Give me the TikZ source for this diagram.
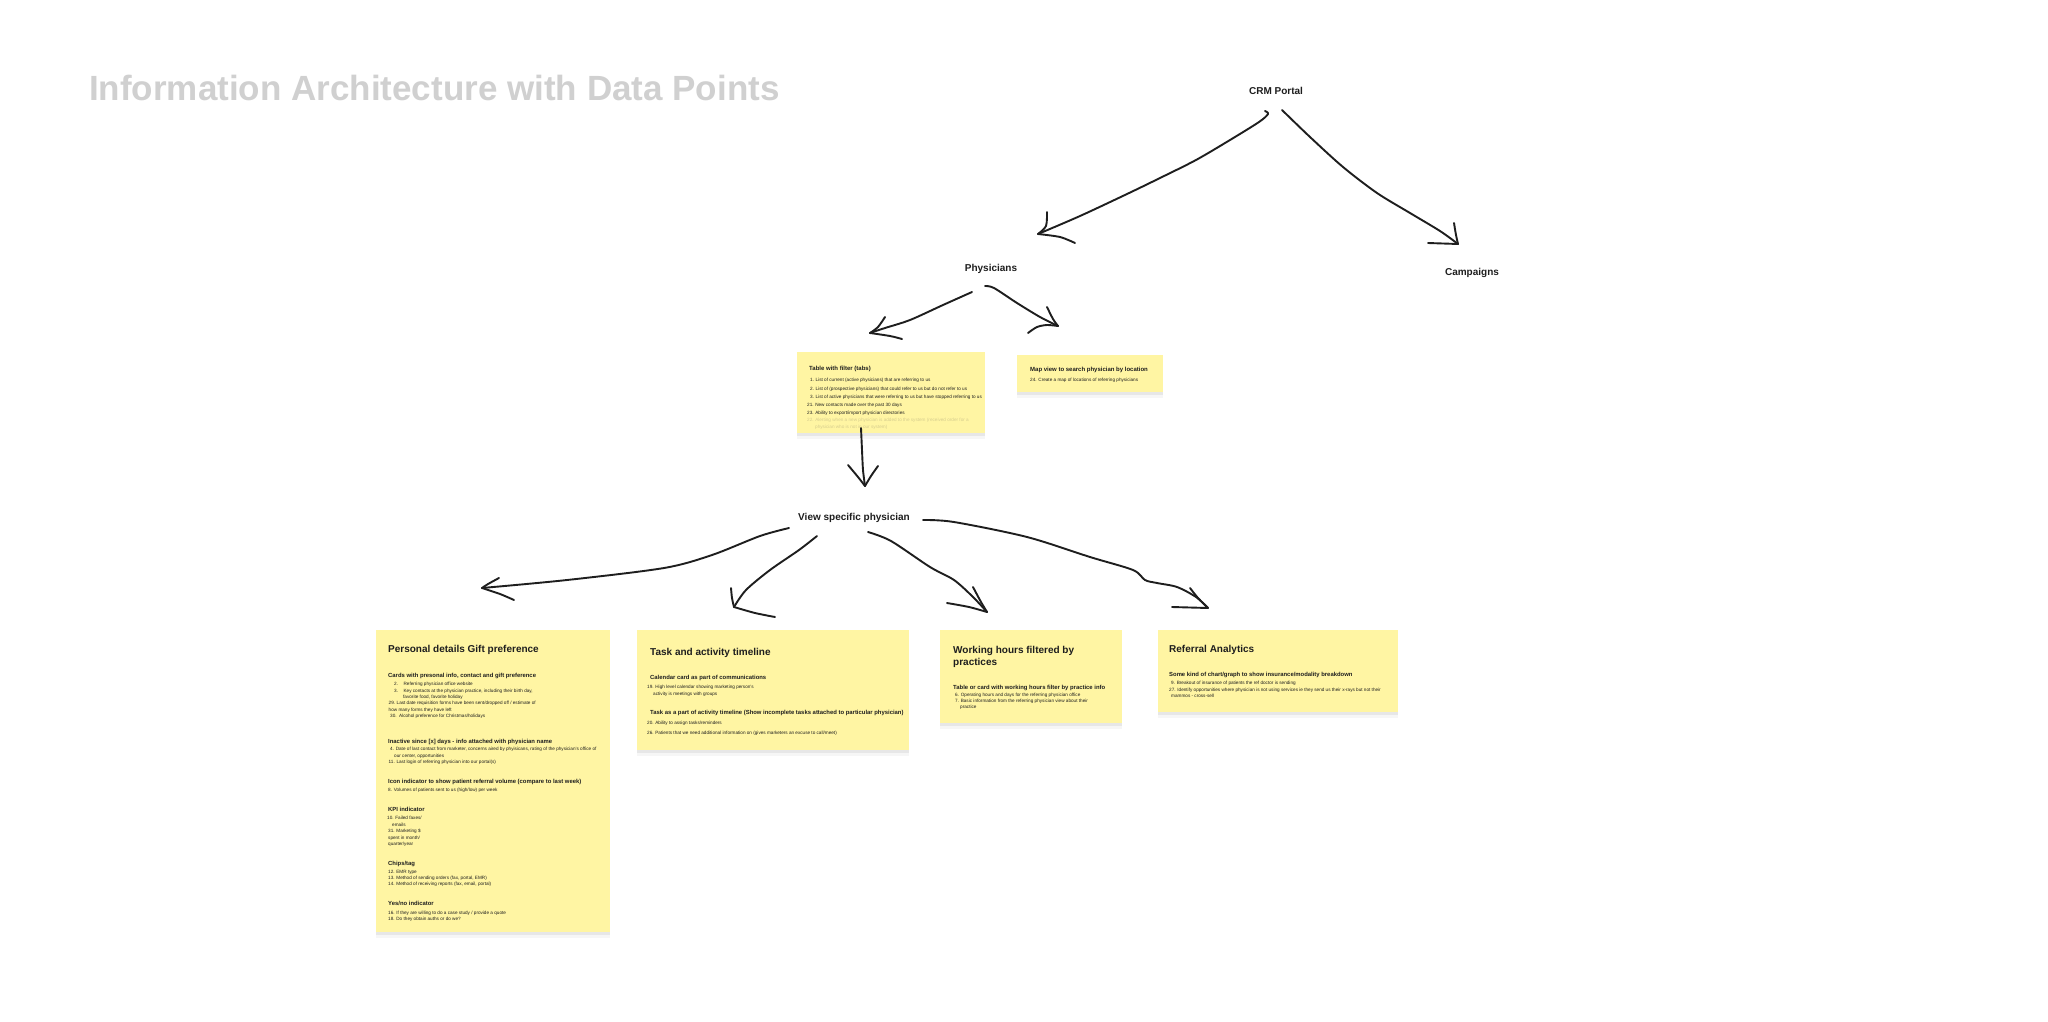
\documentclass[tikz,border=0pt]{standalone}
\usepackage{fontspec}
\setmainfont{Liberation Sans}
\usetikzlibrary{shadows}
\definecolor{notey}{HTML}{FFF5A3}
\definecolor{ink}{HTML}{1E1E1E}
\definecolor{ttlgray}{HTML}{D0D0D0}
\definecolor{faded}{HTML}{D6CD8E}
\tikzset{
  note/.style={fill=notey, draw=none, inner sep=0pt, anchor=north west,
    drop shadow={shadow xshift=0pt, shadow yshift=-6pt, opacity=0.035, fill=black},
    drop shadow={shadow xshift=0pt, shadow yshift=-3pt, opacity=0.06, fill=black}},
  hand/.style={line width=1.9pt, line cap=round, line join=round, draw=ink},
  lbl/.style={font=\fontsize{10}{12}\selectfont\bfseries, text=ink, inner sep=0pt, anchor=base, yshift=-3.6pt},
  bigtitle/.style={font=\fontsize{35}{40}\selectfont\bfseries, text=ttlgray, inner sep=0pt, anchor=base west},
  ntitle/.style={font=\fontsize{10}{12}\selectfont\bfseries, text=ink, inner sep=0pt, anchor=base west, yshift=-3.6pt},
  stitle/.style={font=\fontsize{6}{7}\selectfont\bfseries, text=ink, inner sep=0pt, anchor=base west, yshift=-2.1pt},
  sub/.style={font=\fontsize{5.9}{6.5}\selectfont\bfseries, text=ink, inner sep=0pt, anchor=base west, yshift=-2.0pt},
  itm/.style={font=\fontsize{4.65}{5.5}\selectfont, text=ink, inner sep=0pt, anchor=base west, yshift=-1.55pt},
  fitm/.style={itm, text=faded}
}
\begin{document}
\begin{tikzpicture}[x=1pt,y=-1pt]
\useasboundingbox (0,0) rectangle (2048,1021);
\fill[white] (0,0) rectangle (2048,1021);

% title
\node[bigtitle] (title) at (89,100) {Information Architecture with Data Points};

% hierarchy labels
\node[lbl] (crm) at (1276,91) {CRM Portal};
\node[lbl] (phys) at (991,268) {Physicians};
\node[lbl] (camp) at (1472,272) {Campaigns};
\node[lbl] (view) at (854,517) {View specific physician};

% sticky notes
\node[note, minimum width=188pt, minimum height=81pt] (tbl) at (797,352) {};
\node[note, minimum width=146pt, minimum height=37pt] (map) at (1017,355) {};
\node[note, minimum width=234pt, minimum height=302pt] (pd) at (376,630) {};
\node[note, minimum width=272pt, minimum height=120pt] (task) at (637,630) {};
\node[note, minimum width=182pt, minimum height=93pt] (work) at (940,630) {};
\node[note, minimum width=240pt, minimum height=82pt] (ref) at (1158,630) {};

% table note
\node[stitle] (tb-t) at (809,368) {Table with filter (tabs)};
\node[itm] (tb-1) at (810,380) {1.\hspace{1.6pt}List of current (active physicians) that are referring to us};
\node[itm] (tb-2) at (810,388.5) {2.\hspace{1.6pt}List of (prospective physicians) that could refer to us but do not refer to us};
\node[itm] (tb-3) at (810,396.5) {3.\hspace{1.6pt}List of active physicians that were referring to us but have stopped referring to us};
\node[itm] (tb-4) at (807,404.5) {21.\hspace{1.6pt}New contacts made over the past 30 days};
\node[itm] (tb-5) at (807,412.5) {23.\hspace{1.6pt}Ability to export/import physician directories};
\node[fitm] (tb-6) at (807,420) {22.\hspace{1.6pt}Alerting when a new physician is added to the system (received order for a};
\node[fitm] (tb-7) at (815,427) {physician who is not in our system)};

% map note
\node[stitle] (mp-t) at (1030,369) {Map view to search physician by location};
\node[itm] (mp-1) at (1030,380) {24. Create a map of locations of referring physicians};

% personal details note
\node[ntitle] (pd-t) at (388,649) {Personal details Gift preference};
\node[sub] (pd-s1) at (388,675) {Cards with presonal info, contact and gift preference};
\node[itm] (pd-1) at (394,684) {2.\hspace{5.5pt}Referring physician office website};
\node[itm] (pd-2) at (394,690.5) {3.\hspace{5.5pt}Key contacts at the physician practice, including their birth day,};
\node[itm] (pd-3) at (403,697) {favorite food, favorite holiday};
\node[itm] (pd-4) at (388.5,703) {29.\hspace{1.5pt}Last date requisition forms have been sent/dropped off / estimate of};
\node[itm] (pd-5) at (388.5,709.5) {how many forms they have left};
\node[itm] (pd-6) at (390,716) {30.\hspace{2.5pt}Alcohol preference for Christmas/holidays};
\node[sub] (pd-s2) at (388,741) {Inactive since [x] days - info attached with physician name};
\node[itm] (pd-7) at (390,749) {4. Date of last contact from marketer, concerns aired by phyisicans, rating of the physician's office of};
\node[itm] (pd-8) at (394,755.5) {our center, opportunities};
\node[itm] (pd-9) at (388.5,762) {11. Last login of referring physician into our portal(s)};
\node[sub] (pd-s3) at (388,781) {Icon indicator to show patient referral volume (compare to last week)};
\node[itm] (pd-10) at (388,790) {8. Volumes of patients sent to us (high/low) per week};
\node[sub] (pd-s4) at (388,809) {KPI indicator};
\node[itm] (pd-11) at (387,818) {10. Failed faxes/};
\node[itm] (pd-12) at (392,824.5) {emails};
\node[itm] (pd-13) at (388,831) {31. Marketing \$};
\node[itm] (pd-14) at (388,837.5) {spent in month/};
\node[itm] (pd-15) at (388,844) {quarter/year};
\node[sub] (pd-s5) at (388,863) {Chips/tag};
\node[itm] (pd-16) at (388,872) {12. EMR type};
\node[itm] (pd-17) at (388,878) {13. Method of sending orders (fax, portal, EMR)};
\node[itm] (pd-18) at (388,884) {14. Method of receiving reports (fax, email, portal)};
\node[sub] (pd-s6) at (388,903) {Yes/no indicator};
\node[itm] (pd-19) at (388,913) {16. If they are willing to do a case study / provide a quote};
\node[itm] (pd-20) at (388,919) {18. Do they obtain auths or do we?};

% task note
\node[ntitle] (tk-t) at (650,652) {Task and activity timeline};
\node[sub] (tk-s1) at (650,677) {Calendar card as part of communications};
\node[itm] (tk-1) at (647,687) {19. High level calendar showing marketing person's};
\node[itm] (tk-2) at (653,694) {activity is meetings with groups};
\node[sub] (tk-s2) at (650,712) {Task as a part of activity timeline (Show incomplete tasks attached to particular physician)};
\node[itm] (tk-3) at (647,723) {20. Ability to assign tasks/reminders};
\node[itm] (tk-4) at (647,733) {26. Patients that we need additional information on (gives marketers an excuse to call/meet)};

% working hours note
\node[ntitle] (wk-t1) at (953,650) {Working hours filtered by};
\node[ntitle] (wk-t2) at (953,662) {practices};
\node[sub] (wk-s) at (953,687) {Table or card with working hours filter by practice info};
\node[itm] (wk-1) at (955,695) {6. Operating hours and days for the referring physician office};
\node[itm] (wk-2) at (955,701) {7. Basic information from the referring physician view about their};
\node[itm] (wk-3) at (960,707) {practice};

% referral note
\node[ntitle] (rf-t) at (1169,649) {Referral Analytics};
\node[sub] (rf-s) at (1169,674) {Some kind of chart/graph to show insurance/modality breakdown};
\node[itm] (rf-1) at (1171,683) {9. Breakout of insurance of patients the ref doctor is sending};
\node[itm] (rf-2) at (1169,690) {27. Identify opportunities where physician is not using services ie they send us their x-rays but not their};
\node[itm] (rf-3) at (1171,696) {mammos - cross-sell};

% connector end points
\coordinate (crm-l) at (1265,111);
\coordinate (crm-r) at (1282,110);
\coordinate (phys-in) at (1038,234);
\coordinate (camp-in) at (1458,244);
\coordinate (phys-l) at (972,292);
\coordinate (phys-r) at (985,286);
\coordinate (tbl-in) at (870,333);
\coordinate (map-in) at (1058,326);
\coordinate (tbl-out) at (861,428);
\coordinate (view-in) at (865,486);
\coordinate (view-a) at (789,528);
\coordinate (view-b) at (817,536);
\coordinate (view-c) at (868,532);
\coordinate (view-d) at (923,520);
\coordinate (pd-in) at (482,588);
\coordinate (task-in) at (734,607);
\coordinate (work-in) at (987,612);
\coordinate (ref-in) at (1208,608);

% CRM -> Physicians
\draw[hand] plot[smooth, tension=0.5] coordinates {(crm-l) (1268,114) (1259,122) (1230,140) (1196,160) (1160,178) (1127,194) (1080,216) (phys-in)};
\draw[hand] plot[smooth, tension=0.5] coordinates {(1047,212) (1046,226) (phys-in)};
\draw[hand] plot[smooth, tension=0.5] coordinates {(phys-in) (1060,237) (1075,243)};
% CRM -> Campaigns
\draw[hand] plot[smooth, tension=0.5] coordinates {(crm-r) (1310,137) (1343,167) (1377,193) (1410,213) (1440,231) (camp-in)};
\draw[hand] plot[smooth, tension=0.5] coordinates {(1454,223) (1456,235) (camp-in)};
\draw[hand] (1428,243) -- (camp-in);
% Physicians -> Table
\draw[hand] plot[smooth, tension=0.5] coordinates {(phys-l) (943,305) (910,320) (885,328) (tbl-in)};
\draw[hand] plot[smooth, tension=0.5] coordinates {(885,317) (878,327) (tbl-in)};
\draw[hand] plot[smooth, tension=0.5] coordinates {(tbl-in) (890,336) (902,339)};
% Physicians -> Map
\draw[hand] plot[smooth, tension=0.5] coordinates {(phys-r) (994,288) (1017,303) (1040,317) (map-in)};
\draw[hand] plot[smooth, tension=0.5] coordinates {(1047,307) (1053,319) (map-in)};
\draw[hand] plot[smooth, tension=0.5] coordinates {(1028,333) (1037,327) (1047,325) (map-in)};
% Table -> View specific physician
\draw[hand] plot[smooth, tension=0.5] coordinates {(tbl-out) (862,450) (863,470) (view-in)};
\draw[hand] plot[smooth, tension=0.5] coordinates {(848,465) (858,477) (view-in)};
\draw[hand] plot[smooth, tension=0.5] coordinates {(878,466) (871,476) (view-in)};
% View -> Personal details
\draw[hand] plot[smooth, tension=0.5] coordinates {(view-a) (760,536) (712,555) (664,568) (567,580) (pd-in)};
\draw[hand] plot[smooth, tension=0.5] coordinates {(499,578) (488,584) (pd-in)};
\draw[hand] plot[smooth, tension=0.5] coordinates {(pd-in) (500,594) (514,600)};
% View -> Task
\draw[hand] plot[smooth, tension=0.5] coordinates {(view-b) (799,550) (770,570) (746,590) (task-in)};
\draw[hand] plot[smooth, tension=0.5] coordinates {(731,588) (732,598) (task-in)};
\draw[hand] plot[smooth, tension=0.5] coordinates {(task-in) (755,613) (775,617)};
% View -> Working hours
\draw[hand] plot[smooth, tension=0.5] coordinates {(view-c) (891,541) (930,567) (954,580) (973,597) (work-in)};
\draw[hand] plot[smooth, tension=0.5] coordinates {(973,587) (981,602) (work-in)};
\draw[hand] plot[smooth, tension=0.5] coordinates {(947,603) (969,607) (work-in)};
% View -> Referral
\draw[hand] plot[smooth, tension=0.5] coordinates {(view-d) (954,522) (1027,537) (1090,557) (1133,570) (1145,580) (1157,583) (1177,587) (1196,597) (ref-in)};
\draw[hand] plot[smooth, tension=0.5] coordinates {(1190,588) (1198,598) (ref-in)};
\draw[hand] (1172,607) -- (ref-in);
\end{tikzpicture}
\end{document}
